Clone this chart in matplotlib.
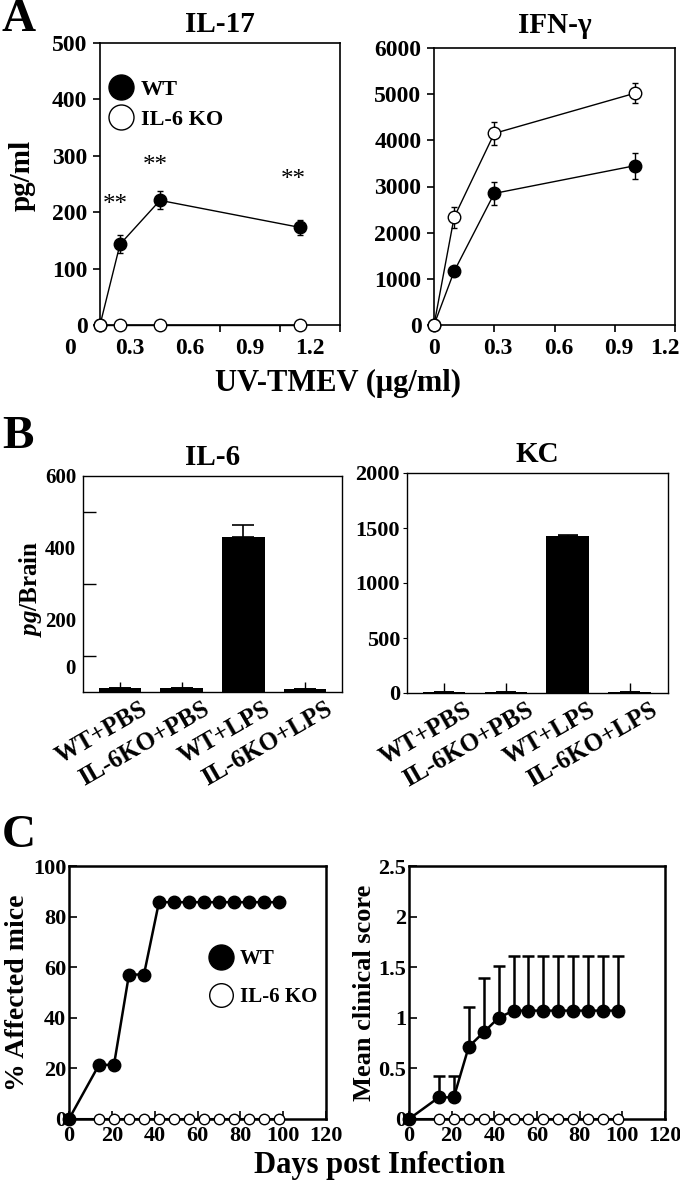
#!/usr/bin/env python3
"""Three-panel cytokine / clinical-score figure (A: in vitro, B: brain, C: disease course)."""

import matplotlib
matplotlib.use("Agg")
import matplotlib.pyplot as plt
import matplotlib.transforms as mtransforms
from matplotlib.lines import Line2D

plt.rcParams["font.family"] = ["Liberation Serif", "DejaVu Serif"]
plt.rcParams["font.weight"] = "bold"
plt.rcParams["axes.labelweight"] = "bold"
plt.rcParams["axes.titleweight"] = "bold"
plt.rcParams["mathtext.fontset"] = "custom"
plt.rcParams["mathtext.it"] = "Liberation Serif:italic:bold"
plt.rcParams["mathtext.rm"] = "Liberation Serif:bold"

# ---- Panel A: UV-TMEV stimulation ----
dose = [0, 0.1, 0.3, 1.0]
il17_wt = [0, 143, 221, 173]
il17_wt_err = [0, 16, 16, 13]
il17_ko = [0, 0, 0, 0]
stars_x = [0.075, 0.275, 0.965]
stars_y = [212, 282, 257]

ifn_wt = [0, 1160, 2850, 3450]
ifn_wt_err = [0, 80, 250, 280]
ifn_ko = [0, 2330, 4150, 5020]
ifn_ko_err = [0, 230, 250, 220]

# ---- Panel B: brain cytokines ----
groups = ["WT+PBS", "IL-6KO+PBS", "WT+LPS", "IL-6KO+LPS"]
il6 = [11, 11, 430, 9]
il6_err = [0, 0, 35, 0]
kc = [8, 8, 1425, 8]
kc_err = [0, 0, 10, 0]

# ---- Panel C: disease course ----
days = [0, 14, 21, 28, 35, 42, 49, 56, 63, 70, 77, 84, 91, 98]
affected_wt = [0, 21.4, 21.4, 57.1, 57.1, 85.7, 85.7, 85.7, 85.7, 85.7, 85.7, 85.7, 85.7, 85.7]
affected_ko = [0] * 14
score_wt = [0, 0.214, 0.214, 0.714, 0.857, 1.0, 1.071, 1.071, 1.071, 1.071, 1.071, 1.071, 1.071, 1.071]
score_wt_err = [0, 0.21, 0.21, 0.39, 0.54, 0.51, 0.54, 0.54, 0.54, 0.54, 0.54, 0.54, 0.54, 0.54]
score_ko = [0] * 14

W, H = 680, 1187
fig = plt.figure(figsize=(W / 100, H / 100), dpi=100)


def px_axes(left, top, right, bottom):
    return fig.add_axes([left / W, 1 - bottom / H, (right - left) / W, (bottom - top) / H])


def shift_labels(labels, dx=0, dy=0):
    off = mtransforms.ScaledTranslation(dx / 100, dy / 100, fig.dpi_scale_trans)
    for lab in labels:
        lab.set_transform(lab.get_transform() + off)


def style(ax, lw):
    for sp in ax.spines.values():
        sp.set_linewidth(lw)


# ---------------- A ----------------
ax = px_axes(100, 43, 340, 325)
style(ax, 1.2)
ax.errorbar(dose, il17_wt, yerr=il17_wt_err, fmt="-o", color="black", ms=9, lw=1,
            elinewidth=1, capsize=2, clip_on=False, zorder=3)
ax.plot(dose, il17_ko, "-o", color="black", mfc="white", mec="black", ms=9, lw=1,
        mew=1, clip_on=False, zorder=4)
for sx, sy in zip(stars_x, stars_y):
    ax.text(sx, sy, "**", ha="center", va="center", fontsize=18, fontweight="normal")
ax.set_xlim(0, 1.2)
ax.set_ylim(0, 500)
ax.set_xticks([0, 0.3, 0.6, 0.9, 1.2])
ax.set_xticklabels(["0", "0.3", "0.6", "0.9", "1.2"])
ax.set_yticks(range(0, 501, 100))
ax.tick_params(direction="out", length=5, width=1.2, labelsize=17, pad=4)
shift_labels(ax.get_xticklabels(), dx=-30)
ax.set_ylabel("pg/ml", fontsize=21)
ax.yaxis.set_label_coords(-0.27, 0.53)
ax.set_title("IL-17", fontsize=21, pad=8)
handles = [
    Line2D([], [], ls="none", marker="o", ms=18, mfc="black", mec="black"),
    Line2D([], [], ls="none", marker="o", ms=18, mfc="white", mec="black", mew=1),
]
ax.legend(handles, ["WT", "IL-6 KO"], loc="upper left", bbox_to_anchor=(0.04, 0.87),
          frameon=False, fontsize=16, handlelength=1.0, handletextpad=0.4,
          labelspacing=0.4, borderpad=0, borderaxespad=0)

ax = px_axes(434, 48, 675, 325)
style(ax, 1.2)
ax.errorbar(dose, ifn_wt, yerr=ifn_wt_err, fmt="-o", color="black", ms=9, lw=1,
            elinewidth=1, capsize=2, clip_on=False, zorder=3)
ax.errorbar(dose, ifn_ko, yerr=ifn_ko_err, fmt="-o", color="black", mfc="white",
            mec="black", ms=9, lw=1, elinewidth=1, capsize=2, clip_on=False, zorder=4)
ax.set_xlim(0, 1.2)
ax.set_ylim(0, 6000)
ax.set_xticks([0, 0.3, 0.6, 0.9, 1.2])
ax.set_xticklabels(["0", "0.3", "0.6", "0.9", "1.2"])
ax.set_yticks(range(0, 6001, 1000))
ax.tick_params(direction="out", length=5, width=1.2, labelsize=17, pad=4)
shift_labels(ax.get_xticklabels()[1:4], dx=4)
shift_labels(ax.get_xticklabels()[4:], dx=-10)
ax.set_title("IFN-γ", fontsize=21, pad=11)

fig.text(338 / W, 1 - 383 / H, "UV-TMEV (μg/ml)", ha="center", va="center", fontsize=22)
fig.text(2 / W, 1 - 20 / H, "A", ha="left", va="center", fontsize=34)

# ---------------- B ----------------
xb = list(range(len(groups)))

ax = px_axes(83, 476, 342, 692)
style(ax, 1.0)
ax.bar(xb, il6, width=0.69, color="black",
       yerr=[[0] * 4, il6_err], capsize=8, error_kw=dict(elinewidth=1.2, capthick=1.2))
ax.set_xlim(-0.6, 3.6)
ax.set_ylim(0, 600)
ax.set_yticks([0, 200, 400, 600])
ax.set_yticks([100, 300, 500], minor=True)
ax.tick_params(axis="y", which="major", length=0, labelsize=15, pad=5)
ax.tick_params(axis="y", which="minor", direction="in", length=9, width=1)
ax.set_xticks(xb)
ax.set_xticklabels(groups, rotation=30, ha="right", rotation_mode="anchor")
ax.tick_params(axis="x", direction="in", length=7, width=1, labelsize=18, pad=4)
shift_labels(ax.get_xticklabels(), dx=20)
shift_labels(ax.get_yticklabels()[:1], dy=25)
ax.set_ylabel(r"$\mathit{pg}$/Brain", fontsize=18)
ax.yaxis.set_label_coords(-0.15, 0.48)
ax.set_title("IL-6", fontsize=21, pad=8)

ax = px_axes(407, 473, 668, 693)
style(ax, 1.0)
ax.bar(xb, kc, width=0.69, color="black",
       yerr=[[0] * 4, kc_err], capsize=7, error_kw=dict(elinewidth=1.2, capthick=1.2))
ax.set_xlim(-0.6, 3.62)
ax.set_ylim(0, 2000)
ax.set_yticks(range(0, 2001, 500))
ax.tick_params(axis="y", direction="out", length=3, labelsize=16, pad=2)
ax.set_xticks(xb)
ax.set_xticklabels(groups, rotation=30, ha="right", rotation_mode="anchor")
ax.tick_params(axis="x", direction="in", length=7, width=1, labelsize=18, pad=4)
shift_labels(ax.get_xticklabels(), dx=20)
ax.set_title("KC", fontsize=21, pad=8)

fig.text(2 / W, 1 - 437 / H, "B", ha="left", va="center", fontsize=34)

# ---------------- C ----------------
ax = px_axes(69, 866, 326, 1119)
style(ax, 1.8)
ax.plot(days, affected_ko, "-o", color="black", mfc="white", mec="black", ms=7.5,
        lw=1.5, mew=1, clip_on=False, zorder=3)
ax.plot(days, affected_wt, "-o", color="black", ms=9, lw=1.8, clip_on=False, zorder=4)
ax.set_xlim(0, 120)
ax.set_ylim(0, 100)
ax.set_xticks(range(0, 121, 20))
ax.set_yticks(range(0, 101, 20))
ax.tick_params(direction="in", length=6, width=1.2, labelsize=16)
ax.tick_params(axis="x", pad=5)
ax.tick_params(axis="y", pad=2)
ax.set_ylabel("% Affected mice", fontsize=20, labelpad=2)
handles = [
    Line2D([], [], ls="none", marker="o", ms=18, mfc="black", mec="black"),
    Line2D([], [], ls="none", marker="o", ms=17, mfc="white", mec="black", mew=1),
]
ax.legend(handles, ["WT", "IL-6 KO"], loc="upper left", bbox_to_anchor=(0.55, 0.67),
          frameon=False, fontsize=15, handlelength=1.0, handletextpad=0.4,
          labelspacing=0.85, borderpad=0, borderaxespad=0)

ax = px_axes(409, 866, 665, 1119)
style(ax, 1.8)
ax.plot(days, score_ko, "-o", color="black", mfc="white", mec="black", ms=7.5,
        lw=1.5, mew=1, clip_on=False, zorder=3)
ax.errorbar(days, score_wt, yerr=[[0] * len(days), score_wt_err], fmt="-o", color="black",
            ms=9, lw=1.8, elinewidth=1.8, capsize=4.5, capthick=1.8, clip_on=False, zorder=4)
ax.set_xlim(0, 120)
ax.set_ylim(0, 2.5)
ax.set_xticks(range(0, 121, 20))
ax.set_yticks([0, 0.5, 1, 1.5, 2, 2.5])
ax.set_yticklabels(["0", "0.5", "1", "1.5", "2", "2.5"])
ax.tick_params(direction="in", length=6, width=1.2, labelsize=16)
ax.tick_params(axis="x", pad=5)
ax.tick_params(axis="y", pad=2)
ax.set_ylabel("Mean clinical score", fontsize=19, labelpad=2)

fig.text(380 / W, 1 - 1165 / H, "Days post Infection", ha="center", va="center", fontsize=22)
fig.text(2 / W, 1 - 836 / H, "C", ha="left", va="center", fontsize=34)

fig.savefig("out.png", dpi=100)
